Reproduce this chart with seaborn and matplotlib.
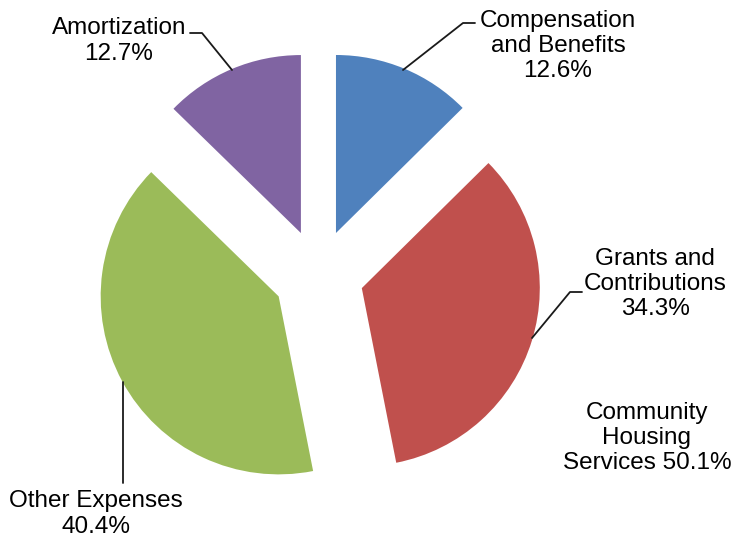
import matplotlib
matplotlib.use("Agg")
import matplotlib.pyplot as plt
import seaborn as sns

# expense breakdown (percent of total)
categories = ["Compensation\nand Benefits", "Grants and\nContributions", "Other Expenses", "Amortization"]
shares = [12.6, 34.3, 40.4, 12.7]
colors = ["#4F81BD", "#C0504D", "#9BBB59", "#8064A2"]
extra_label = "Community\nHousing\nServices"
extra_share = 50.1

sns.set_style("white")
plt.rcParams['font.family'] = ['Liberation Sans', 'DejaVu Sans']

W, H = 731, 541
CX, CY, R = 318.5, 274.8, 178.0


def px(x, y):
    # pixel position (from top-left) -> data coords of the pie axes
    return (x - CX) / R, (CY - y) / R


fig = plt.figure(figsize=(W / 100, H / 100), dpi=100)
ax = fig.add_axes([0, 0, 1, 1])

palette = sns.color_palette(colors)
ax.pie(shares, colors=palette, startangle=90, counterclock=False,
       explode=[0.2545] * len(shares), radius=1,
       wedgeprops=dict(linewidth=0))

ax.set_xlim(-CX / R, (W - CX) / R)
ax.set_ylim(-(H - CY) / R, CY / R)
ax.set_aspect('auto')
ax.axis('off')

# label placement: text centre, leader line points (pixels)
label_pos = [(558, 46), (655, 284), (96, 514), (119, 41)]
leaders = [
    [(403, 70), (463, 23), (475, 23)],
    [(532, 338), (570, 292), (582, 292)],
    [(123, 382), (123, 483)],
    [(232, 70), (202, 33), (190, 33)],
]

for name, val, pos, pts in zip(categories, shares, label_pos, leaders):
    ax.text(*px(*pos), f"{name}\n{val}%", ha='center', va='center',
            fontsize=17.5, linespacing=1.2, color='black')
    xs, ys = zip(*[px(*p) for p in pts])
    ax.plot(xs, ys, color='#1a1a1a', linewidth=1.3)

ax.text(*px(647, 438), f"{extra_label} {extra_share}%", ha='center', va='center',
        fontsize=17.5, linespacing=1.2, color='black')

fig.savefig("out.png", dpi=100)
